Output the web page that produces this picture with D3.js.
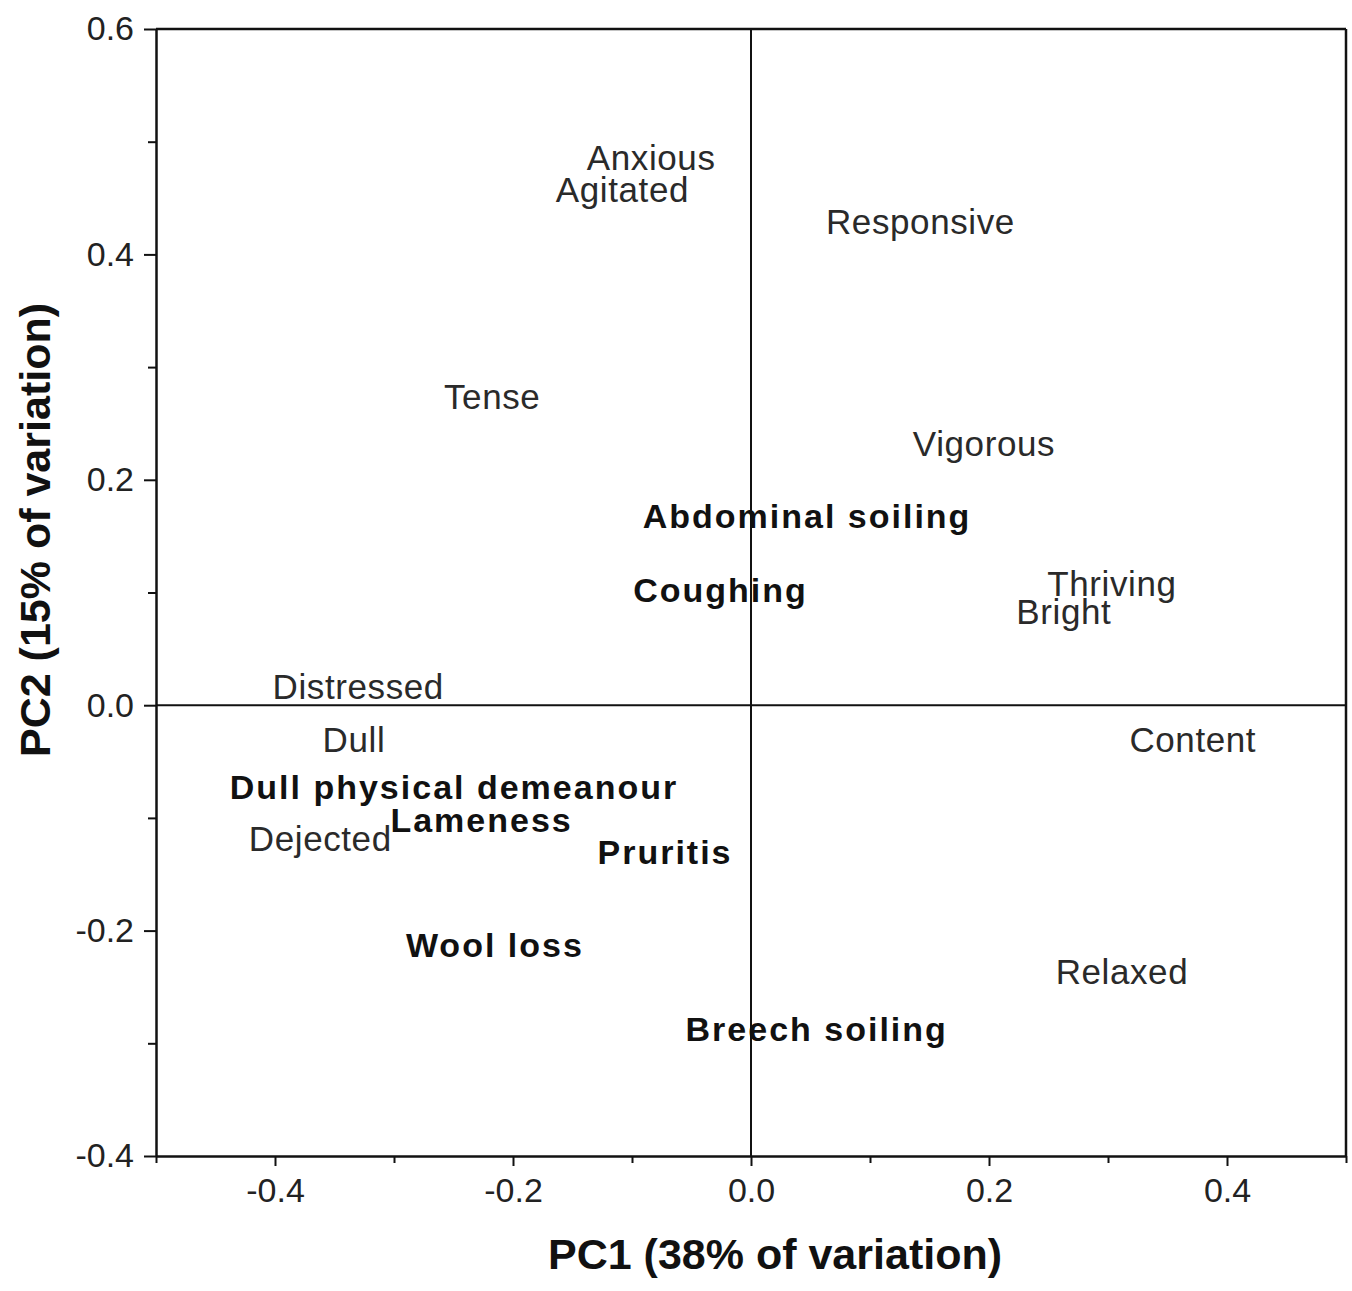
<!DOCTYPE html>
<html>
<head>
<meta charset="utf-8">
<script src="https://cdn.jsdelivr.net/npm/d3@7"></script>
<style>
  body { margin: 0; background: #fff; }
  text { font-family: "Liberation Sans", Arial, sans-serif; }
</style>
</head>
<body>
<div id="chart"></div>
<script>
// PCA loadings plot - labels only
var labels  = ["Anxious", "Agitated", "Responsive", "Tense", "Vigorous", "Abdominal soiling",
               "Coughing", "Thriving", "Bright", "Distressed", "Dull", "Content",
               "Dull physical demeanour", "Lameness", "Dejected", "Pruritis", "Wool loss",
               "Relaxed", "Breech soiling"];
var pc1     = [-0.138, -0.164, 0.063, -0.258, 0.136, -0.091,
               -0.099, 0.249, 0.223, -0.402, -0.360, 0.318,
               -0.438, -0.303, -0.422, -0.129, -0.290,
               0.256, -0.055];
var pc2     = [0.486, 0.458, 0.429, 0.274, 0.232, 0.168,
               0.102, 0.108, 0.083, 0.017, -0.030, -0.030,
               -0.072, -0.102, -0.118, -0.130, -0.213,
               -0.236, -0.287];
// 1 = health measure (bold), 0 = qualitative term
var isHealth = [0, 0, 0, 0, 0, 1,
                1, 0, 0, 0, 0, 0,
                1, 1, 0, 1, 1,
                0, 1];

var xTicks = [-0.5, -0.4, -0.3, -0.2, -0.1, 0.0, 0.1, 0.2, 0.3, 0.4, 0.5];
var xLabeled = [-0.4, -0.2, 0.0, 0.2, 0.4];
var yTicks = [-0.4, -0.3, -0.2, -0.1, 0.0, 0.1, 0.2, 0.3, 0.4, 0.5, 0.6];
var yLabeled = [-0.4, -0.2, 0.0, 0.2, 0.4, 0.6];

var width = 1352, height = 1291;
var margin = {top: 29, right: 6, bottom: 135, left: 156};

var svg = d3.select("#chart").append("svg")
  .attr("width", width)
  .attr("height", height);

var x = d3.scaleLinear().domain([-0.5, 0.5]).range([margin.left, width - margin.right]);
var y = d3.scaleLinear().domain([-0.4, 0.6]).range([height - margin.bottom, margin.top]);

function isMajor(list, v) {
  return list.some(function(t) { return Math.abs(t - v) < 1e-9; });
}

// frame top + right
svg.append("line")
  .attr("x1", x(-0.5)).attr("x2", x(0.5))
  .attr("y1", y(0.6)).attr("y2", y(0.6))
  .attr("stroke", "#111").attr("stroke-width", 2.5);
svg.append("line")
  .attr("x1", x(0.5)).attr("x2", x(0.5))
  .attr("y1", y(0.6)).attr("y2", y(-0.4))
  .attr("stroke", "#111").attr("stroke-width", 2.5);

// zero lines
svg.append("line")
  .attr("x1", x(-0.5)).attr("x2", x(0.5))
  .attr("y1", y(0)).attr("y2", y(0))
  .attr("stroke", "#111").attr("stroke-width", 2);
svg.append("line")
  .attr("x1", x(0)).attr("x2", x(0))
  .attr("y1", y(0.6)).attr("y2", y(-0.4))
  .attr("stroke", "#111").attr("stroke-width", 2);

// bottom axis
var gx = svg.append("g")
  .attr("transform", "translate(0," + y(-0.4) + ")")
  .call(d3.axisBottom(x).tickValues(xTicks).tickSizeOuter(0)
    .tickFormat(function(d) { return isMajor(xLabeled, d) ? d3.format(".1f")(d).replace("−", "-") : ""; }));
gx.selectAll("line").attr("y2", function(d) { return isMajor(xLabeled, d) ? 10 : 7; });

// left axis
var gy = svg.append("g")
  .attr("transform", "translate(" + x(-0.5) + ",0)")
  .call(d3.axisLeft(y).tickValues(yTicks).tickSizeOuter(0)
    .tickFormat(function(d) { return isMajor(yLabeled, d) ? d3.format(".1f")(d).replace("−", "-") : ""; }));
gy.selectAll("line").attr("x2", function(d) { return isMajor(yLabeled, d) ? -12 : -8; });

[gx, gy].forEach(function(g) {
  g.select(".domain").attr("stroke", "#111").attr("stroke-width", 2.5);
  g.selectAll(".tick line").attr("stroke", "#111").attr("stroke-width", 2);
  g.selectAll(".tick text")
    .attr("font-size", 34)
    .attr("fill", "#222")
    .attr("font-family", "Liberation Sans, Arial, sans-serif");
});
gx.selectAll(".tick text").attr("dy", "0.71em").attr("y", 22);
gy.selectAll(".tick text").attr("x", -22);

// labels
svg.append("g").selectAll("text")
  .data(labels)
  .enter().append("text")
    .attr("x", function(d, i) { return x(pc1[i]); })
    .attr("y", function(d, i) { return y(pc2[i]); })
    .attr("dy", "0.36em")
    .attr("font-size", function(d, i) { return isHealth[i] ? 34 : 35; })
    .attr("font-weight", function(d, i) { return isHealth[i] ? "bold" : "normal"; })
    .attr("letter-spacing", function(d, i) { return isHealth[i] ? 2 : 0.6; })
    .attr("fill", function(d, i) { return isHealth[i] ? "#111" : "#2a2a2a"; })
    .text(function(d) { return d; });

// axis titles
svg.append("text")
  .attr("x", x(0) + 24)
  .attr("y", 1269)
  .attr("text-anchor", "middle")
  .attr("font-size", 43)
  .attr("font-weight", "bold")
  .attr("fill", "#111")
  .text("PC1 (38% of variation)");

svg.append("text")
  .attr("transform", "translate(50," + 530 + ") rotate(-90)")
  .attr("text-anchor", "middle")
  .attr("font-size", 43)
  .attr("font-weight", "bold")
  .attr("fill", "#111")
  .text("PC2 (15% of variation)");
</script>
</body>
</html>
